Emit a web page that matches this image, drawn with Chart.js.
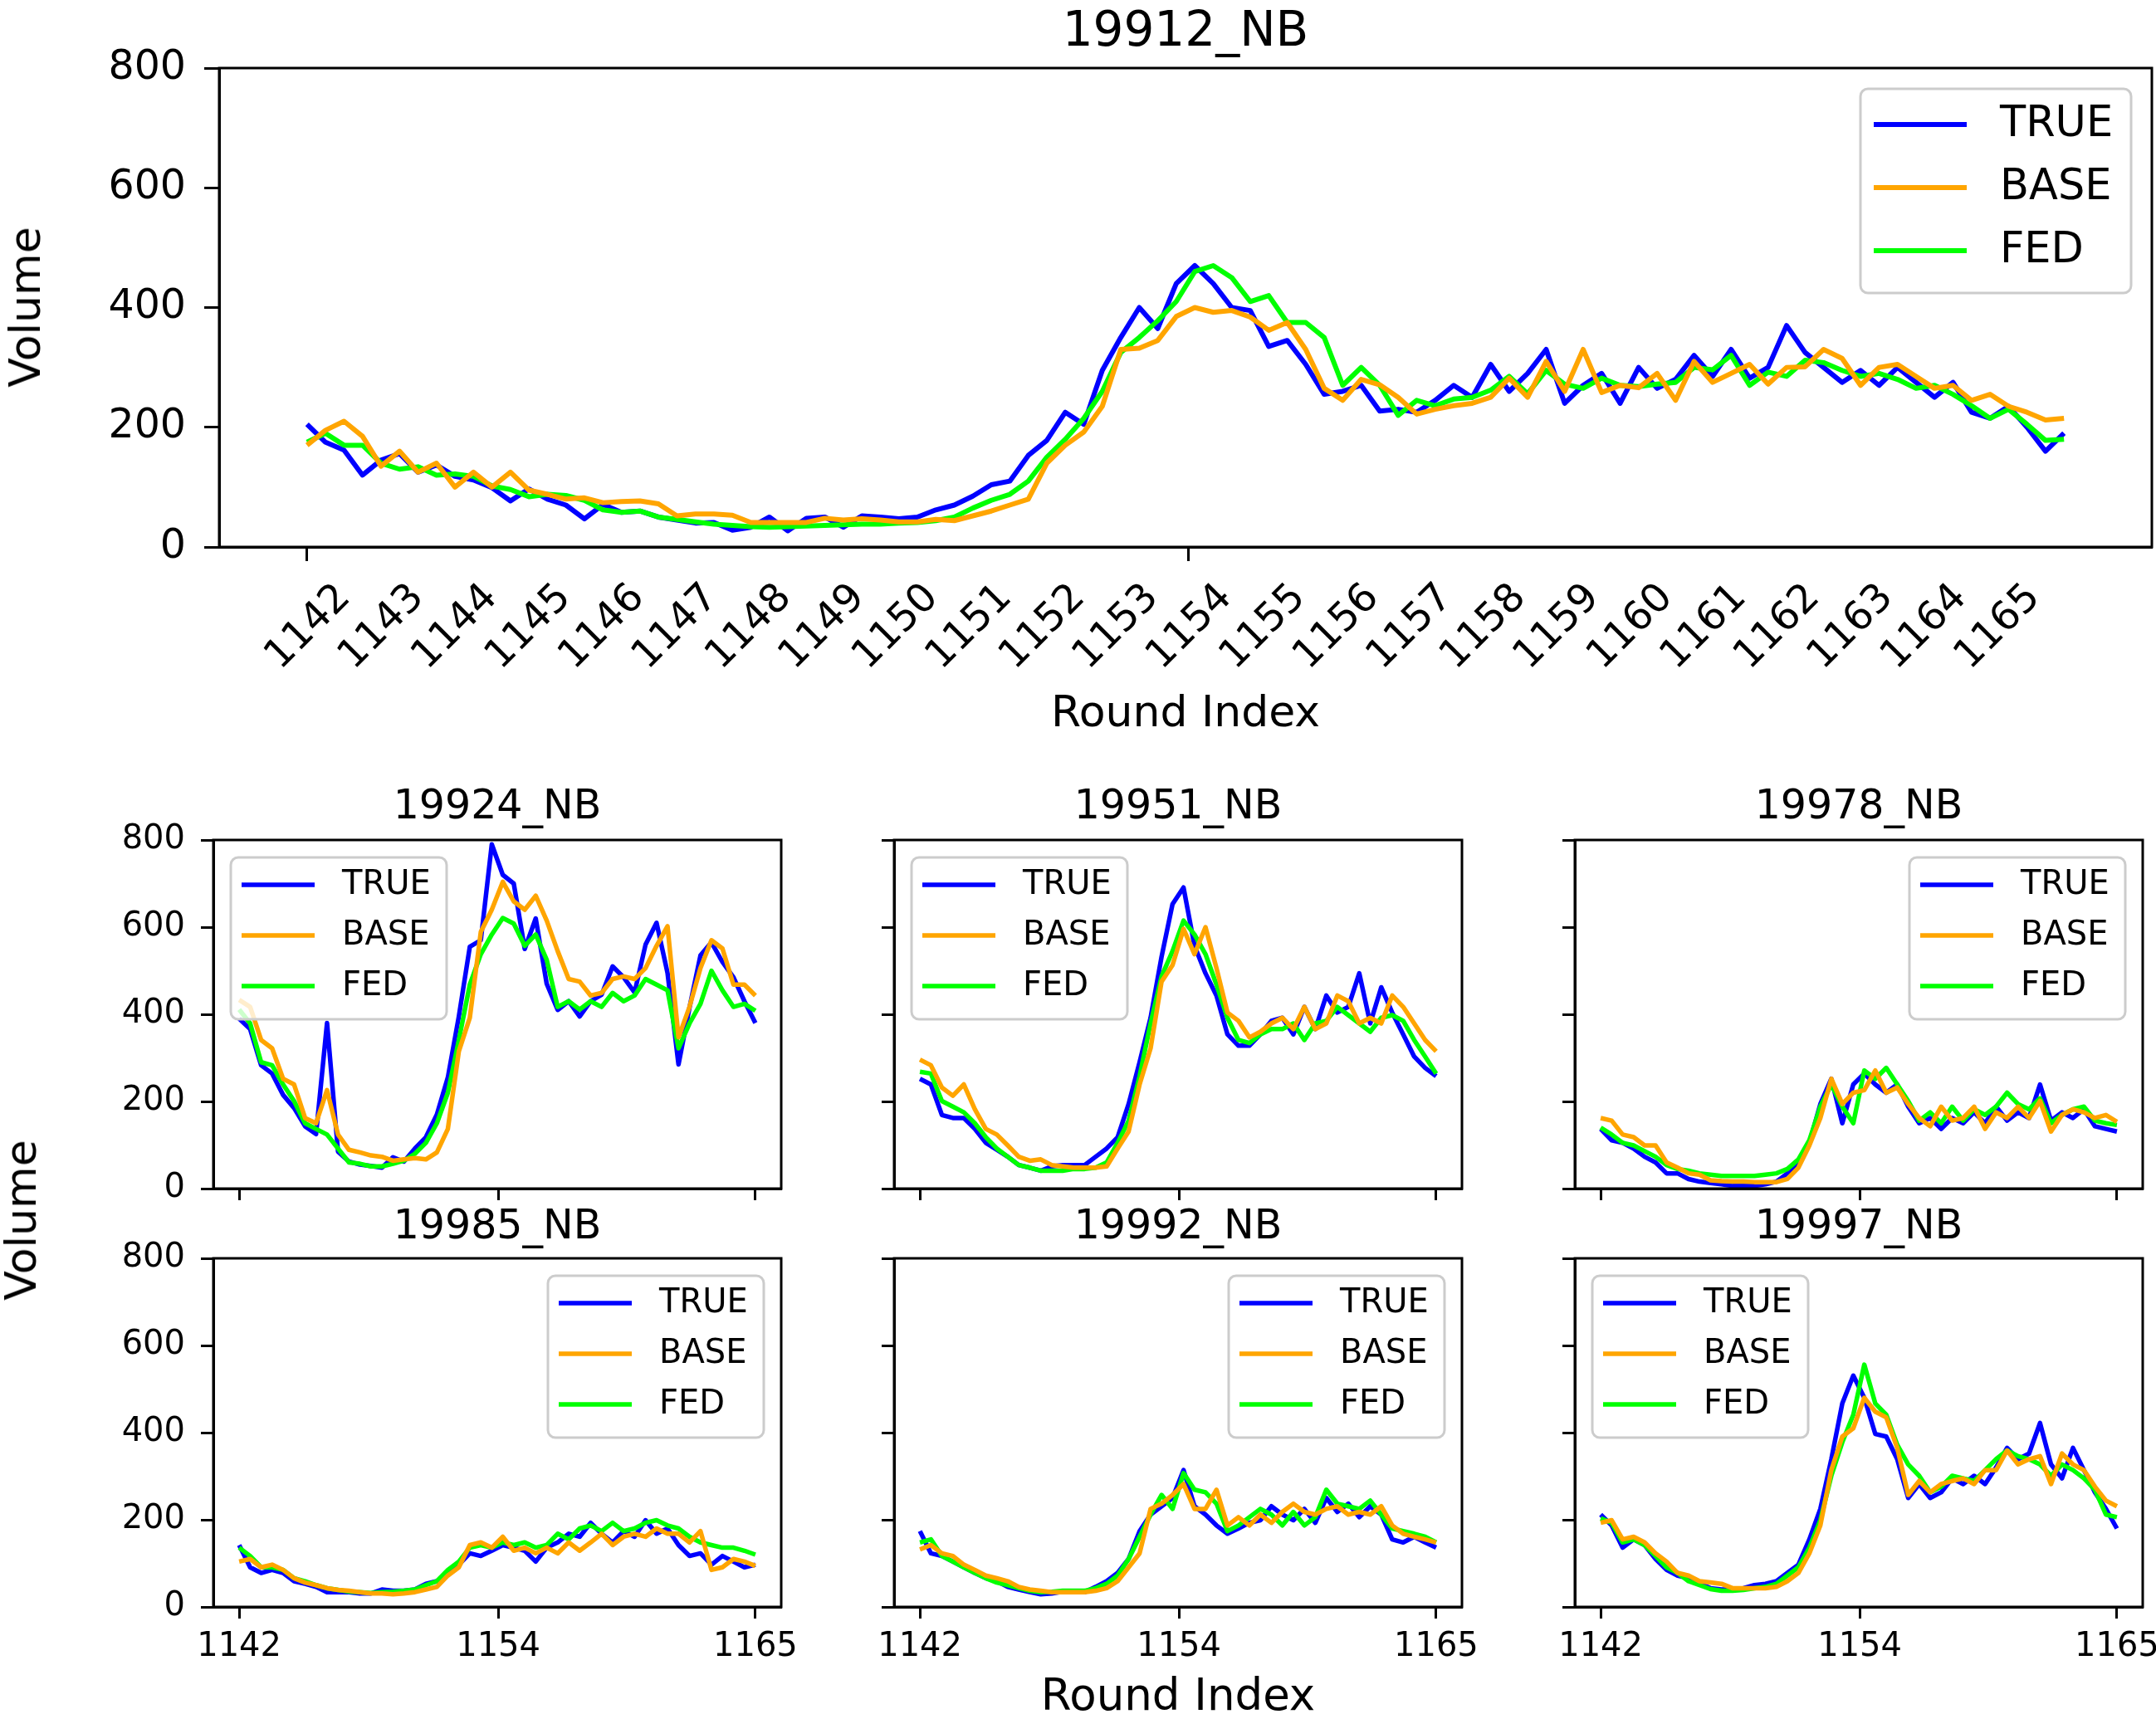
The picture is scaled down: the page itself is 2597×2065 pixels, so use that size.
<!DOCTYPE html>
<html>
<head>
<meta charset="utf-8">
<script src="https://cdn.jsdelivr.net/npm/chart.js@4.4.1/dist/chart.umd.min.js"></script>
<style>
  body { margin: 0; background: #fff; }
  #page { position: relative; width: 2597px; height: 2065px; overflow: hidden; background: #fff;
          font-family: "DejaVu Sans", sans-serif; color: #000; }
  #page canvas { position: absolute; }
  .txt { position: absolute; line-height: 1; white-space: nowrap; }
</style>
</head>
<body>
<div id="page"></div>
<script>
// ---- data ----
const seriesNames = ['TRUE', 'BASE', 'FED'];
const lastIndex = 287;          // points are indexed 0..287 (12 per round)
const pointsPerRound = 12;
const roundLabels = ['1142','1143','1144','1145','1146','1147','1148','1149','1150','1151','1152','1153',
                     '1154','1155','1156','1157','1158','1159','1160','1161','1162','1163','1164','1165'];
const smallTickIndex = [0, 144, 287];
const smallTickLabels = ['1142', '1154', '1165'];
const yTicks = [0, 200, 400, 600, 800];

// 19912_NB (big panel)
const nb19912True = [205,175,162,120,145,156,125,137,118,112,99,77, 97,80,70,47,71,58,60,50,45,40,41,28,
  33,50,27,48,50,33,52,50,47,50,62,70, 85,104,110,153,178,225,205,295,350,400,365,440,
  470,440,400,395,335,345,305,255,260,270,227,230, 225,245,270,250,305,260,290,330,240,270,290,240,
  300,265,280,320,285,330,282,300,370,325,300,275, 295,270,300,275,250,275,225,215,235,200,160,190];
const nb19912Base = [170,195,210,185,135,160,125,140,100,125,100,125, 95,88,80,82,74,76,77,72,52,55,55,53,
  41,41,41,41,48,45,47,45,42,42,46,44, 52,60,70,80,140,170,192,235,330,332,345,385,
  400,392,395,384,362,375,330,265,245,280,271,250, 222,230,236,240,250,282,250,310,260,330,258,270,
  266,290,245,310,275,290,305,272,300,301,330,315, 270,300,305,285,265,270,245,255,235,225,212,215];
const nb19912Fed = [175,190,170,170,140,130,134,120,122,118,102,96, 84,88,86,78,62,58,60,50,46,42,38,36,
  34,33,34,35,36,37,38,38,40,41,44,50, 65,78,88,110,150,180,215,260,325,350,378,410,
  460,470,450,410,420,375,375,350,270,300,270,220, 245,236,247,250,262,285,256,295,272,265,282,270,
  268,272,275,300,296,320,270,292,285,312,308,295, 285,290,280,265,270,255,236,215,230,205,178,180];

// 19924_NB
const nb19924True = [390,366,283,264,215,185,143,125,380,85,62,55,52,48,72,62,92,118,170,255,395,555,570,790,
  720,700,550,620,470,410,430,395,430,445,510,485,450,560,610,495,285,415,535,565,520,485,430,380];
const nb19924Base = [433,417,341,322,252,239,162,150,226,124,89,83,76,73,64,67,70,67,83,137,315,392,589,640,
  704,659,640,672,615,545,481,475,443,449,481,487,481,506,557,602,347,417,506,570,551,468,468,443];
const nb19924Fed = [411,379,290,283,239,201,150,137,124,92,60,57,51,51,57,64,80,105,150,220,341,468,538,583,
  621,608,557,583,525,417,430,411,430,417,449,430,443,481,468,455,322,379,424,500,455,417,424,408];

// 19951_NB
const nb19951True = [252,239,169,162,162,137,105,89,73,54,48,41,51,54,54,54,73,92,118,194,290,392,532,653,
  691,557,494,443,354,328,328,354,385,392,354,417,366,443,404,417,494,379,462,404,354,303,277,258];
const nb19951Base = [296,283,232,213,239,182,137,124,99,73,64,67,54,51,48,48,48,51,92,131,239,322,475,513,
  596,538,600,506,404,385,347,360,379,392,366,417,366,379,443,430,379,392,379,443,417,379,341,315];
const nb19951Fed = [268,264,201,188,175,150,118,92,73,54,48,41,41,41,45,45,48,60,105,156,258,379,487,545,
  615,583,538,468,392,341,334,354,366,366,379,341,379,385,417,398,379,360,392,398,385,341,303,264];

// 19978_NB
const nb19978True = [137,111,105,92,73,60,35,35,22,16,13,10,6,6,6,10,16,35,60,105,194,252,150,239,
  264,239,220,239,188,150,162,137,162,150,175,150,188,156,175,162,239,156,175,162,182,143,137,131];
const nb19978Base = [162,156,124,118,99,99,60,48,35,32,19,17,16,16,15,15,15,22,48,99,162,252,194,220,
  226,271,220,232,194,162,143,188,156,162,188,137,175,162,188,162,201,131,169,182,175,162,169,153];
const nb19978Fed = [140,124,105,99,86,73,54,45,41,35,32,29,29,29,29,32,35,45,67,111,188,239,188,150,
  271,252,277,239,201,156,175,150,188,156,182,169,188,220,194,182,207,150,169,182,188,156,150,146];

// 19985_NB
const nb19985True = [142,91,78,85,78,59,53,46,34,34,34,31,31,40,37,37,40,53,59,78,97,123,117,129,
  142,136,129,104,136,148,168,161,193,168,148,174,161,199,168,180,142,117,123,97,117,104,91,97];
const nb19985Base = [104,110,91,97,85,66,56,50,43,39,37,34,31,31,29,31,34,40,46,72,91,142,148,136,
  161,129,136,123,136,123,148,129,148,168,142,161,168,161,180,168,168,148,174,85,91,110,104,94];
const nb19985Fed = [136,117,91,91,85,66,59,50,43,39,35,34,32,34,35,37,40,50,59,85,104,136,142,136,
  148,142,148,136,142,168,155,180,187,174,193,174,180,193,199,187,180,161,148,142,136,136,129,120];

// 19992_NB
const nb19992True = [174,123,117,104,91,78,66,59,46,40,34,29,31,35,34,34,46,59,78,110,174,212,231,250,
  314,231,212,187,168,180,193,199,231,212,199,225,193,250,218,237,206,231,212,155,148,161,148,136];
const nb19992Base = [132,142,123,117,97,85,72,66,59,46,40,37,34,34,34,34,37,43,59,91,123,225,237,257,
  282,225,225,269,187,206,187,212,193,218,237,218,212,225,231,212,218,212,231,187,168,161,155,148];
const nb19992Fed = [148,155,117,104,91,78,66,56,50,43,37,34,35,37,37,37,43,53,72,110,161,212,257,225,
  307,269,263,237,174,187,206,225,212,187,218,187,206,269,237,231,225,244,212,180,174,168,161,148];

// 19997_NB
const nb19997True = [212,187,136,155,142,110,85,72,66,53,43,40,40,43,50,53,59,78,97,155,225,339,467,531,
  480,397,391,339,250,282,250,263,295,282,301,282,320,365,339,352,422,327,295,365,314,263,225,180];
const nb19997Base = [193,199,155,161,148,123,104,78,72,59,56,53,43,43,43,43,46,59,78,123,187,314,391,410,
  480,448,435,365,257,289,263,282,289,295,282,314,314,359,327,339,346,282,352,327,314,276,244,231];
const nb19997Fed = [203,193,148,155,142,117,91,78,59,50,41,37,37,39,43,46,53,72,91,136,199,301,378,441,
  556,467,441,372,327,301,263,276,301,295,289,314,339,359,346,339,327,301,327,314,295,269,212,206];

// ---- look ----
const seriesColors = ['#0000ff', '#ffa500', '#00ff00'];
const drawOrder = [2, 0, 1];   // lower = drawn on top (BASE over FED over TRUE)
const FONT = '"DejaVu Sans", sans-serif';
Chart.defaults.font.family = FONT;
Chart.defaults.color = '#000';

const page = document.getElementById('page');

function addText(str, size, cx, top, rotate) {
  const d = document.createElement('div');
  d.className = 'txt';
  d.textContent = str;
  d.style.fontSize = size + 'px';
  d.style.left = cx + 'px';
  d.style.top = top + 'px';
  d.style.transform = rotate ? 'translate(-50%,-50%) rotate(-90deg)' : 'translateX(-50%)';
  page.appendChild(d);
}

function toPoints(vals) {
  return vals.map((v, k) => ({ x: k * lastIndex / (vals.length - 1), y: v }));
}

function roundRectPath(ctx, x, y, w, h, r) {
  ctx.beginPath();
  ctx.moveTo(x + r, y);
  ctx.arcTo(x + w, y, x + w, y + h, r);
  ctx.arcTo(x + w, y + h, x, y + h, r);
  ctx.arcTo(x, y + h, x, y, r);
  ctx.arcTo(x, y, x + w, y, r);
  ctx.closePath();
}

function decor(p) {
  return {
    id: 'decor',
    afterDatasetsDraw(chart) {
      const ctx = chart.ctx, a = chart.chartArea;
      ctx.save();
      // frame (all four spines)
      ctx.strokeStyle = '#000';
      ctx.lineWidth = 3;
      ctx.strokeRect(a.left, a.top, a.right - a.left, a.bottom - a.top);
      // legend
      const L = p.big
        ? { w: 326, h: 246, gap: 25, x0: 16, x1: 128, ys: [43, 119, 195], tx: 168, fs: 51, lw: 6 }
        : { w: 260, h: 195, gap: 21, x0: 13, x1: 101, ys: [33, 94, 155], tx: 134, fs: 40, lw: 5.5 };
      const bx = p.legendSide === 'left' ? a.left + L.gap : a.right - L.gap - L.w;
      const by = a.top + L.gap;
      roundRectPath(ctx, bx, by, L.w, L.h, 9);
      ctx.fillStyle = 'rgba(255,255,255,0.8)';
      ctx.fill();
      ctx.strokeStyle = '#cccccc';
      ctx.lineWidth = 3;
      ctx.stroke();
      ctx.font = L.fs + 'px ' + FONT;
      ctx.textBaseline = 'middle';
      ctx.textAlign = 'left';
      seriesNames.forEach((name, s) => {
        const y = by + L.ys[s];
        ctx.strokeStyle = seriesColors[s];
        ctx.lineWidth = L.lw;
        ctx.beginPath();
        ctx.moveTo(bx + L.x0, y);
        ctx.lineTo(bx + L.x1, y);
        ctx.stroke();
        ctx.fillStyle = '#000';
        ctx.fillText(name, bx + L.tx, y + 1);
      });
      ctx.restore();
    },
    afterDraw(chart) {
      if (!p.big) return;
      // rotated round labels under the big panel
      const ctx = chart.ctx, a = chart.chartArea, sx = chart.scales.x;
      ctx.save();
      ctx.font = '48px ' + FONT;
      ctx.fillStyle = '#000';
      ctx.textAlign = 'center';
      ctx.textBaseline = 'middle';
      roundLabels.forEach((lab, k) => {
        const x = sx.getPixelForValue(k * pointsPerRound);
        ctx.save();
        ctx.translate(x + 2, a.bottom + 97);
        ctx.rotate(-Math.PI / 4);
        ctx.fillText(lab, 0, 0);
        ctx.restore();
      });
      ctx.restore();
    }
  };
}

function makePanel(p) {
  const axisW = 250;
  const padT = 70;
  const padR = p.big ? 5 : 45;
  const w = axisW + (p.R - p.L) + padR;
  const h = padT + (p.B - p.T) + p.axisH;
  const cv = document.createElement('canvas');
  cv.width = w; cv.height = h;
  cv.style.width = w + 'px'; cv.style.height = h + 'px';
  cv.style.left = (p.L - axisW) + 'px';
  cv.style.top = (p.T - padT) + 'px';
  page.appendChild(cv);

  const tickFs = p.big ? 49 : 40;
  const tickLen = p.big ? 18 : 15;
  const xTickVals = p.big ? roundLabels.map((_, k) => k * pointsPerRound) : smallTickIndex;

  new Chart(cv, {
    type: 'line',
    data: {
      datasets: p.series.map((vals, s) => ({
        label: seriesNames[s],
        data: toPoints(vals),
        borderColor: seriesColors[s],
        backgroundColor: seriesColors[s],
        borderWidth: p.big ? 6 : 5.5,
        borderJoinStyle: 'round',
        pointRadius: 0,
        tension: 0,
        fill: false,
        order: drawOrder[s]
      }))
    },
    options: {
      responsive: false,
      animation: false,
      devicePixelRatio: 1,
      events: [],
      layout: { padding: { top: padT, right: padR, bottom: 0, left: 0 } },
      plugins: { legend: { display: false }, tooltip: { enabled: false }, title: { display: false } },
      scales: {
        x: {
          type: 'linear',
          bounds: 'data',
          min: -lastIndex * 0.05,
          max: lastIndex * 1.05,
          afterBuildTicks: sc => { sc.ticks = xTickVals.map(v => ({ value: v })); },
          afterFit: sc => { sc.height = p.axisH; },
          ticks: {
            display: !p.big && p.xLabels,
            autoSkip: false, maxRotation: 0, minRotation: 0,
            padding: 11,
            font: { size: tickFs },
            color: '#000',
            callback: v => smallTickLabels[smallTickIndex.indexOf(v)]
          },
          grid: { display: true, drawOnChartArea: false, drawTicks: true, tickLength: p.big ? 17 : 14,
                  tickWidth: 3, tickColor: '#000' },
          border: { display: true, color: '#000', width: 3 }
        },
        y: {
          min: 0, max: 800,
          afterBuildTicks: sc => { sc.ticks = yTicks.map(v => ({ value: v })); },
          afterFit: sc => { sc.width = axisW; },
          ticks: {
            display: p.yLabels,
            autoSkip: false,
            padding: p.big ? 22 : 19,
            font: { size: tickFs },
            color: '#000'
          },
          grid: { display: true, drawOnChartArea: false, drawTicks: true, tickLength: tickLen,
                  tickWidth: 3, tickColor: '#000' },
          border: { display: true, color: '#000', width: 3 }
        }
      }
    },
    plugins: [decor(p)]
  });
}

// ---- layout ----
const colL = [257, 1077, 1897];
const rowT = [1012, 1516];
const smallW = 684, smallH = 420;

makePanel({ big: true, L: 264, T: 82, R: 2592, B: 659, axisH: 160, xLabels: true, yLabels: true,
            legendSide: 'right', series: [nb19912True, nb19912Base, nb19912Fed] });
addText('19912_NB', 58, 1428, 6);
addText('Round Index', 52, 1428, 831);
addText('Volume', 52, 30, 370, true);

const smallPanels = [
  { title: '19924_NB', series: [nb19924True, nb19924Base, nb19924Fed], legendSide: 'left' },
  { title: '19951_NB', series: [nb19951True, nb19951Base, nb19951Fed], legendSide: 'left' },
  { title: '19978_NB', series: [nb19978True, nb19978Base, nb19978Fed], legendSide: 'right' },
  { title: '19985_NB', series: [nb19985True, nb19985Base, nb19985Fed], legendSide: 'right' },
  { title: '19992_NB', series: [nb19992True, nb19992Base, nb19992Fed], legendSide: 'right' },
  { title: '19997_NB', series: [nb19997True, nb19997Base, nb19997Fed], legendSide: 'left' }
];
smallPanels.forEach((sp, i) => {
  const r = Math.floor(i / 3), c = i % 3;
  const L = colL[c], T = rowT[r];
  makePanel({ big: false, L: L, T: T, R: L + smallW, B: T + smallH, axisH: r === 0 ? 60 : 80,
              xLabels: r === 1, yLabels: c === 0, legendSide: sp.legendSide, series: sp.series });
  addText(sp.title, 49, L + smallW / 2, r === 0 ? 945 : 1451);
});
addText('Round Index', 53, 1419, 2015);
addText('Volume', 52, 25, 1470, true);
</script>
</body>
</html>
